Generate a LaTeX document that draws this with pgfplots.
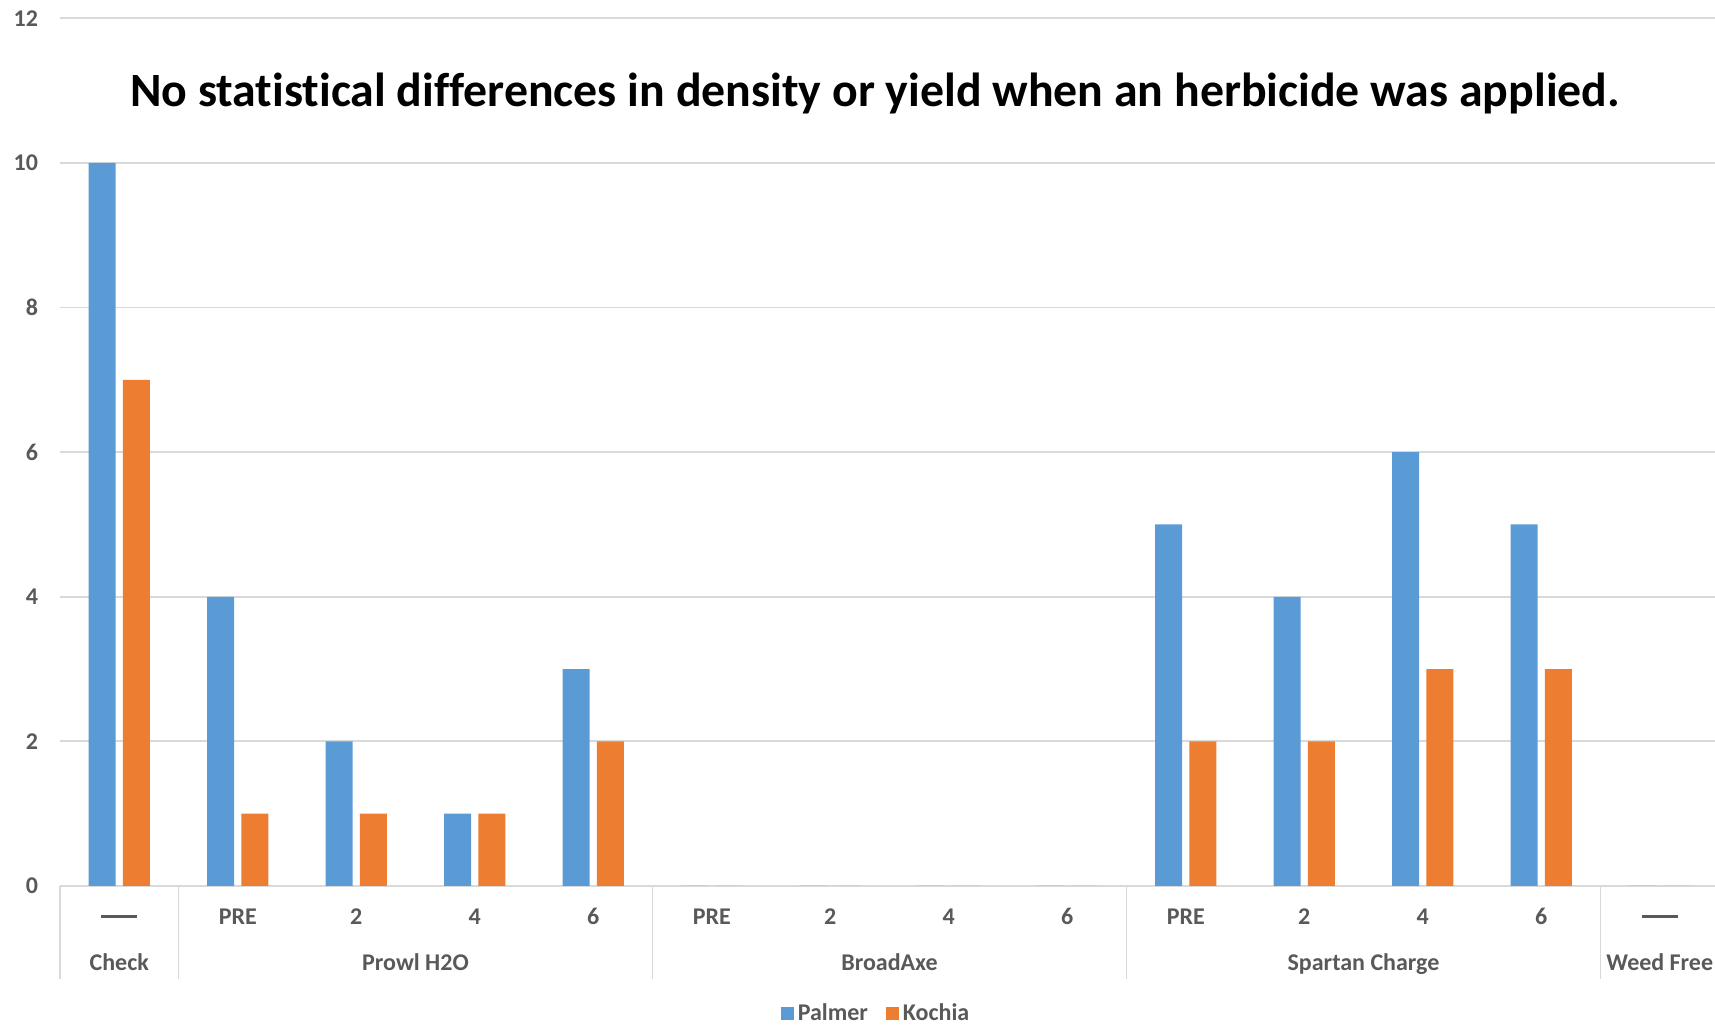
\documentclass[border=0pt]{standalone}
\usepackage{pgfplots}
\pgfplotsset{compat=1.18}
\usepackage{fontspec}
\setmainfont[Ligatures={TeX,NoCommon}]{Carlito}

\definecolor{palmer}{HTML}{5B9BD5}
\definecolor{kochia}{HTML}{ED7D31}
\definecolor{txt}{HTML}{595959}
\definecolor{gridc}{HTML}{D9D9D9}

\newcommand{\lblfont}{\fontsize{12}{14}\selectfont\bfseries}
\newcommand{\dash}{\rule[3.4pt]{18pt}{1.3pt}}
\tikzset{
  sep/.style={gridc, line width=0.9pt},
  grp/.style={font=\lblfont, text=txt, text height=7.7pt, text depth=0pt, anchor=center, yshift=-38.5pt},
}

\begin{document}
\begin{tikzpicture}
\path[use as bounding box] (0,0) rectangle (857.5pt,513pt);
\begin{axis}[
  at={(30pt,70pt)}, anchor=south west,
  scale only axis, width=829.5pt, height=433.8pt,
  xmin=-0.5, xmax=13.5, ymin=0, ymax=12,
  ytick={0,2,...,12},
  xtick={0,...,13},
  xticklabels={\dash,PRE,2,4,6,PRE,2,4,6,PRE,2,4,6,\dash},
  ymajorgrids, grid style={gridc, line width=0.9pt},
  axis line style={draw=none},
  major tick length=0pt,
  tick label style={font=\lblfont, text=txt},
  /pgf/number format/assume math mode=true,
  yticklabel style={xshift=-7.5pt},
  xticklabel style={anchor=center, text height=7.7pt, text depth=0pt, yshift=-15.5pt},
  clip=false,
  legend style={at={(0.4925,-0.1475)}, anchor=center, draw=none,
    legend columns=-1, font=\lblfont, text=txt,
    /tikz/every even column/.append style={column sep=7pt}},
  legend image code/.code={\fill[#1] (0pt,-3.25pt) rectangle (6.5pt,3.25pt);},
]
% Palmer
\addplot[ybar, bar width=0.228, bar shift=-0.144, fill=palmer, draw=none] coordinates {
  (0,10) (1,4) (2,2) (3,1) (4,3) (5,0) (6,0) (7,0) (8,0) (9,5) (10,4) (11,6) (12,5) (13,0)
};
\addlegendentry{Palmer}
% Kochia
\addplot[ybar, bar width=0.228, bar shift=0.144, fill=kochia, draw=none] coordinates {
  (0,7) (1,1) (2,1) (3,1) (4,2) (5,0) (6,0) (7,0) (8,0) (9,2) (10,2) (11,3) (12,3) (13,0)
};
\addlegendentry{Kochia}

% group separators
\draw[sep] (axis cs:-0.5,0) -- ++(0pt,-46.5pt);
\draw[sep] (axis cs:0.5,0) -- ++(0pt,-46.5pt);
\draw[sep] (axis cs:4.5,0) -- ++(0pt,-46.5pt);
\draw[sep] (axis cs:8.5,0) -- ++(0pt,-46.5pt);
\draw[sep] (axis cs:12.5,0) -- ++(0pt,-46.5pt);
% group names
\node[grp] at (axis cs:0,0) {Check};
\node[grp] at (axis cs:2.5,0) {Prowl H2O};
\node[grp] at (axis cs:6.5,0) {BroadAxe};
\node[grp] at (axis cs:10.5,0) {Spartan Charge};
\node[grp] at (axis cs:13,0) {Weed Free};
\end{axis}
\node[font=\fontsize{23.9}{28}\selectfont\bfseries, text height=15.3pt, text depth=0pt, anchor=center]
  at (437.5pt,467.5pt) {No statistical differences in density or yield when an herbicide was applied.};
\end{tikzpicture}
\end{document}
